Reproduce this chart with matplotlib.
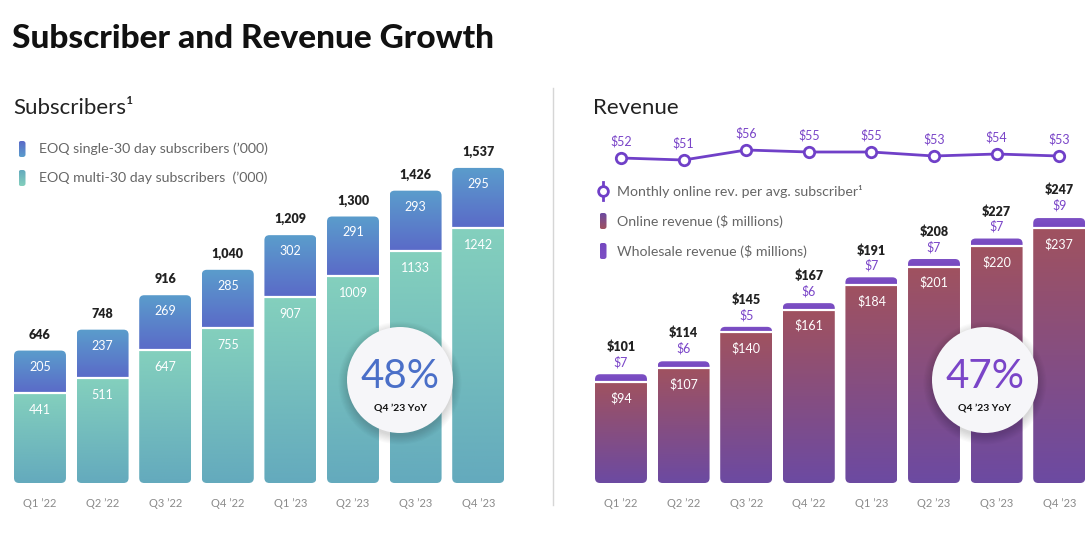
import numpy as np
import matplotlib
matplotlib.use("Agg")
from matplotlib import pyplot as plt
from matplotlib.patches import FancyBboxPatch, Circle
from matplotlib.colors import LinearSegmentedColormap

# data
quarters = ["Q1 \u201922", "Q2 \u201922", "Q3 \u201922", "Q4 \u201922",
            "Q1 \u201923", "Q2 \u201923", "Q3 \u201923", "Q4 \u201923"]
single = [205, 237, 269, 285, 302, 291, 293, 295]
multi = [441, 511, 647, 755, 907, 1009, 1133, 1242]
sub_total = [646, 748, 916, 1040, 1209, 1300, 1426, 1537]
online = [94, 107, 140, 161, 184, 201, 220, 237]
wholesale = [7, 6, 5, 6, 7, 7, 7, 9]
rev_total = [101, 114, 145, 167, 191, 208, 227, 247]
arpu = [52, 51, 56, 55, 55, 53, 54, 53]
sub_yoy = "48%"
rev_yoy = "47%"

W, H = 1086, 541
plt.rcParams['font.family'] = ['Lato', 'DejaVu Sans']
fig = plt.figure(figsize=(W/100, H/100), dpi=100)
fig.patch.set_facecolor("white")

teal = LinearSegmentedColormap.from_list("teal", ["#64aabd", "#84d0bd"])
blue = LinearSegmentedColormap.from_list("blue", ["#5a6ac8", "#5b9dcc"])
mauve = LinearSegmentedColormap.from_list("mauve", ["#6c4aa2", "#a0525f"])
purple = LinearSegmentedColormap.from_list("purple", ["#7548c0", "#7d50c4"])
grad = np.linspace(0, 1, 256).reshape(-1, 1)


def px_axes(x0, y0, x1, y1):
    return fig.add_axes([x0/W, 1-y1/H, (x1-x0)/W, (y1-y0)/H])


def clean(ax):
    for s in ax.spines.values():
        s.set_visible(False)
    ax.set_yticks([])
    ax.tick_params(axis="x", length=0, pad=11, labelsize=8, labelcolor="#8a8a8a")


def stacked(ax, lower, upper, cmaps, rpx=5):
    # rounded outline for the whole stack, gradient segments clipped to it
    xl, yl = ax.get_xlim(), ax.get_ylim()
    bb = ax.get_window_extent()
    ux = (xl[1]-xl[0])/bb.width
    uy = (yl[1]-yl[0])/bb.height
    x = np.arange(len(lower))
    b1 = ax.bar(x, lower, 0.83, alpha=0)
    b2 = ax.bar(x, upper, 0.83, bottom=lower, alpha=0)
    for r1, r2 in zip(b1, b2):
        x0, w = r1.get_x(), r1.get_width()
        top = r2.get_y() + r2.get_height()
        clip = FancyBboxPatch((x0, 0), w, top,
                              boxstyle=f"round,pad=0,rounding_size={rpx*ux}",
                              mutation_aspect=uy/ux, fc="none", ec="none")
        ax.add_patch(clip)
        for r, cm in zip((r1, r2), cmaps):
            im = ax.imshow(grad, extent=(x0, x0+w, r.get_y(), r.get_y()+r.get_height()),
                           origin="lower", cmap=cm, aspect="auto", zorder=2)
            im.set_clip_path(clip)
        ax.plot([x0, x0+w], [r2.get_y()]*2, color="white", lw=1.6, zorder=3,
                solid_capstyle="butt")
    ax.set_xlim(xl)
    ax.set_ylim(yl)


# ---- subscribers panel
ax1 = px_axes(8, 140, 510, 483)
ax1.set_xlim(-0.511, 7.508)
ax1.set_ylim(0, 343/0.205)
clean(ax1)
ax1.set_xticks(range(8))
ax1.set_xticklabels(quarters)
stacked(ax1, multi, single, (teal, blue))
k1 = 1/0.205
for i in range(8):
    ax1.text(i, sub_total[i] + 16*k1, f"{sub_total[i]:,}", ha="center", va="center",
             fontsize=9, fontweight="heavy", color="#222222")
    ax1.text(i, sub_total[i] - 16*k1, str(single[i]), ha="center", va="center",
             fontsize=9, color="white", zorder=4)
    ax1.text(i, multi[i] - 17*k1, str(multi[i]), ha="center", va="center",
             fontsize=9, color="white", zorder=4)

# ---- revenue panel
ax2 = px_axes(588, 140, 1086, 483)
ax2.set_xlim(-0.527, 7.428)
ax2.set_ylim(0, 343/1.077)
clean(ax2)
ax2.set_xticks(range(8))
ax2.set_xticklabels(quarters)
stacked(ax2, online, wholesale, (mauve, purple))
k2 = 1/1.077
for i in range(8):
    ax2.text(i, rev_total[i] + 27*k2, f"${rev_total[i]}", ha="center", va="center",
             fontsize=9, fontweight="heavy", color="#222222")
    ax2.text(i, rev_total[i] + 12*k2, f"${wholesale[i]}", ha="center", va="center",
             fontsize=9, color="#7a45c8")
    ax2.text(i, online[i] - 16*k2, f"${online[i]}", ha="center", va="center",
             fontsize=9, color="white", zorder=4)

ax3 = ax2.twinx()
ax3.set_ylim(-110.5, 61)
for s in ax3.spines.values():
    s.set_visible(False)
ax3.set_yticks([])
ax3.plot(range(8), arpu, color="#7040c8", lw=2, marker="o", ms=7.5,
         mfc="white", mec="#7040c8", mew=2, zorder=5)
for i, v in enumerate(arpu):
    ax3.text(i, v + 8.5, f"${v}", ha="center", va="center", fontsize=9,
             color="#7a45c8")

# ---- overlay in pixel coordinates: titles, legends, circles
ov = fig.add_axes([0, 0, 1, 1], zorder=10)
ov.set_xlim(0, W)
ov.set_ylim(H, 0)
ov.axis("off")
ov.patch.set_alpha(0)

ov.text(12, 38, "Subscriber and Revenue Growth", fontsize=24, fontweight="black",
        color="#111111", va="center", ha="left")
ov.text(13, 108, "Subscribers\u00b9", fontsize=16, color="#222222", va="center")
ov.text(593, 108, "Revenue", fontsize=16, color="#222222", va="center")
ov.plot([553, 553], [88, 505], color="#d6d6d6", lw=1)


def swatch(x, y, cm):
    p = FancyBboxPatch((x-3.5, y-8), 7, 16, boxstyle="round,pad=0,rounding_size=2.5",
                       fc="none", ec="none")
    ov.add_patch(p)
    im = ov.imshow(grad, extent=(x-3.5, x+3.5, y+8, y-8), origin="upper",
                   cmap=cm, aspect="auto")
    im.set_clip_path(p)


swatch(22, 149, blue)
swatch(22, 178, teal)
ov.text(39, 149, "EOQ single-30 day subscribers (\u2019000)", fontsize=10.2,
        color="#666666", va="center")
ov.text(39, 178, "EOQ multi-30 day subscribers  (\u2019000)", fontsize=10.2,
        color="#666666", va="center")

ov.plot([603, 603], [182, 200], color="#7040c8", lw=2)
ov.plot([603], [191], marker="o", ms=7, mfc="white", mec="#7040c8", mew=2)
swatch(603, 221, mauve)
swatch(603, 251, purple)
ov.text(617, 191, "Monthly online rev. per avg. subscriber\u00b9", fontsize=10.2,
        color="#666666", va="center")
ov.text(617, 221, "Online revenue ($ millions)", fontsize=10.2, color="#666666",
        va="center")
ov.text(617, 251, "Wholesale revenue ($ millions)", fontsize=10.2, color="#666666",
        va="center")
ov.set_xlim(0, W)
ov.set_ylim(H, 0)


def badge(cx, cy, big, color):
    for k in range(8):
        ov.add_patch(Circle((cx, cy+3), 53+k*1.2, fc="#000000", ec="none",
                            alpha=0.018))
    ov.add_patch(Circle((cx, cy), 53, fc="#f6f6f9", ec="none"))
    ov.text(cx, cy-3, big, fontsize=29, color=color, ha="center", va="center")
    ov.text(cx, cy+28, "Q4 \u201923 YoY", fontsize=7.5, fontweight="bold",
            color="#111111", ha="center", va="center")


badge(400, 380, sub_yoy, "#4a6fc8")
badge(985, 380, rev_yoy, "#7a45c8")

fig.savefig("out.png", dpi=100)
